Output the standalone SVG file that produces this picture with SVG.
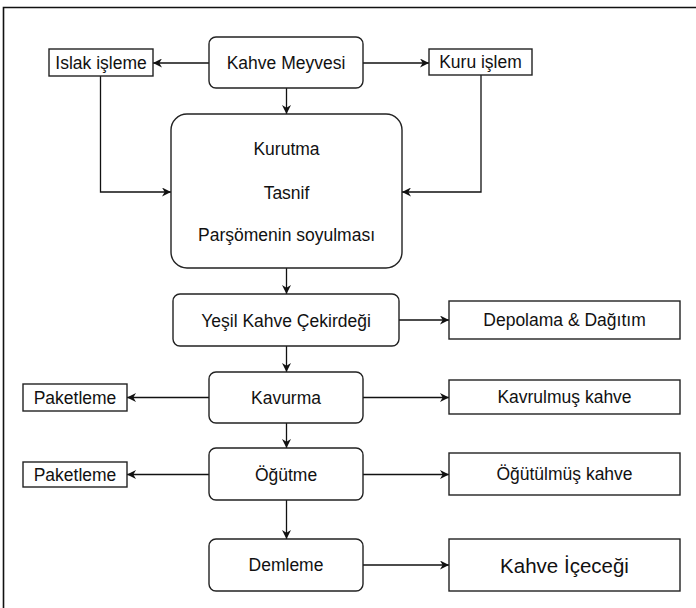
<svg xmlns="http://www.w3.org/2000/svg" width="696" height="608" viewBox="0 0 696 608">
<style>
.n{fill:#fff;stroke:#222;stroke-width:1.4}
.t{font-family:"Liberation Sans",Arial,sans-serif;font-size:17.5px;fill:#111;text-anchor:middle;dominant-baseline:central}
.c{fill:none;stroke:#111;stroke-width:1.3}
</style>
<defs>
<marker id="ah" viewBox="0 0 10 10" refX="10" refY="5" markerWidth="10" markerHeight="9" markerUnits="userSpaceOnUse" orient="auto">
<path d="M0,0 L10,5 L0,10 L3,5 z" fill="#111"/>
</marker>
</defs>
<rect width="696" height="608" fill="#fff"/>
<path d="M3.5,608 V7.5 H696" fill="none" stroke="#111" stroke-width="1.6"/>

<g id="connectors">
<path class="c" d="M209,63 H153" marker-end="url(#ah)"/>
<path class="c" d="M363,63 H429" marker-end="url(#ah)"/>
<path class="c" d="M286.5,88 V114" marker-end="url(#ah)"/>
<path class="c" d="M100.5,76 V192 H171" marker-end="url(#ah)"/>
<path class="c" d="M481,75 V192 H402" marker-end="url(#ah)"/>
<path class="c" d="M286.5,268 V294" marker-end="url(#ah)"/>
<path class="c" d="M399,320 H449" marker-end="url(#ah)"/>
<path class="c" d="M286.5,346 V372" marker-end="url(#ah)"/>
<path class="c" d="M209,397.5 H127" marker-end="url(#ah)"/>
<path class="c" d="M363,397.5 H449" marker-end="url(#ah)"/>
<path class="c" d="M286.5,423 V448" marker-end="url(#ah)"/>
<path class="c" d="M209,474.5 H127" marker-end="url(#ah)"/>
<path class="c" d="M363,474.5 H449" marker-end="url(#ah)"/>
<path class="c" d="M286.5,500 V539" marker-end="url(#ah)"/>
<path class="c" d="M363,565 H449" marker-end="url(#ah)"/>
</g>

<g id="kahve-meyvesi"><rect class="n" x="209" y="37" width="154" height="51" rx="7"/><text class="t" x="286" y="63">Kahve Meyvesi</text></g>
<g id="islak-isleme"><rect class="n" x="49" y="49" width="104" height="27"/><text class="t" x="101" y="62.5">Islak işleme</text></g>
<g id="kuru-islem"><rect class="n" x="429" y="49" width="103" height="26"/><text class="t" x="480.5" y="62">Kuru işlem</text></g>
<g id="kurutma"><rect class="n" x="171" y="114" width="231" height="154" rx="16"/><text class="t" x="286.5" y="149">Kurutma</text><text class="t" x="286.5" y="193">Tasnif</text><text class="t" x="286.5" y="235">Parşömenin soyulması</text></g>
<g id="yesil-kahve"><rect class="n" x="173" y="294" width="226" height="52" rx="7"/><text class="t" x="286" y="320.5">Yeşil Kahve Çekirdeği</text></g>
<g id="depolama"><rect class="n" x="449" y="301" width="231" height="38"/><text class="t" x="564.5" y="320">Depolama &amp; Dağıtım</text></g>
<g id="kavurma"><rect class="n" x="209" y="372" width="154" height="51" rx="7"/><text class="t" x="286" y="398">Kavurma</text></g>
<g id="paketleme-1"><rect class="n" x="23" y="384" width="104" height="27"/><text class="t" x="75" y="397.5">Paketleme</text></g>
<g id="kavrulmus-kahve"><rect class="n" x="449" y="380" width="231" height="34"/><text class="t" x="564.5" y="397">Kavrulmuş kahve</text></g>
<g id="ogutme"><rect class="n" x="209" y="448" width="154" height="52" rx="7"/><text class="t" x="286" y="474.5">Öğütme</text></g>
<g id="paketleme-2"><rect class="n" x="23" y="462" width="104" height="25"/><text class="t" x="75" y="474.5">Paketleme</text></g>
<g id="ogutulmus-kahve"><rect class="n" x="449" y="453" width="231" height="42"/><text class="t" x="564.5" y="474">Öğütülmüş kahve</text></g>
<g id="demleme"><rect class="n" x="209" y="539" width="154" height="52" rx="7"/><text class="t" x="286" y="565">Demleme</text></g>
<g id="kahve-icecegi"><rect class="n" x="449" y="539" width="231" height="52"/><text class="t" x="564.5" y="565" style="font-size:20.5px">Kahve İçeceği</text></g>
</svg>
